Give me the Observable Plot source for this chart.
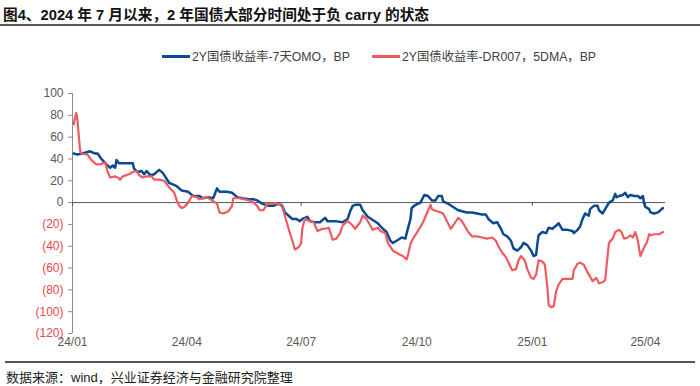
<!DOCTYPE html>
<html><head><meta charset="utf-8">
<script src="https://cdn.jsdelivr.net/npm/d3@7"></script>
<script src="https://cdn.jsdelivr.net/npm/@observablehq/plot@0.6"></script>
<style>
body{margin:0;width:700px;height:386px;background:#fff;font-family:"Liberation Sans","Noto Sans CJK SC",sans-serif;position:relative;overflow:hidden}
#title{position:absolute;left:3px;top:3px;font-size:14.7px;font-weight:bold;color:#111;white-space:nowrap;font-family:"Liberation Sans","Noto Sans CJK SC",sans-serif}
#tline{position:absolute;left:0;top:24px;width:700px;height:2px;background:#555}
#legend{position:absolute;top:47px;left:0;width:700px;height:18px;font-size:12.3px;color:#404040}
.li{position:absolute;top:0;display:flex;align-items:center;white-space:nowrap;height:18px}
.sw{width:28px;height:3px;margin-right:2px}
#chart{position:absolute;left:0;top:80px}
#bline{position:absolute;left:5px;top:361px;width:690px;height:2px;background:#555}
#source{position:absolute;left:6px;top:367px;font-size:13px;color:#222;white-space:nowrap}
</style></head>
<body>
<div id="title">图4、2024 年 7 月以来，2 年国债大部分时间处于负 carry 的状态</div>
<div id="tline"></div>
<div id="legend"></div>
<div id="chart"></div>
<div id="bline"></div>
<div id="source">数据来源：wind，兴业证券经济与金融研究院整理</div>
<script>
const seriesNames = ["2Y国债收益率-7天OMO，BP", "2Y国债收益率-DR007，5DMA，BP"];
const seriesColors = ["#0b4a93", "#ef5a60"];

const yTicks = [100, 80, 60, 40, 20, 0, -20, -40, -60, -80, -100, -120];
const xTickDates = ["2024-01-01", "2024-04-01", "2024-07-01", "2024-10-01", "2025-01-01", "2025-04-01"];
const xTickLabels = ["24/01", "24/04", "24/07", "24/10", "25/01", "25/04"];

const blueDates = ["2024-01-02","2024-01-05","2024-01-09","2024-01-15","2024-01-19","2024-01-21","2024-01-24","2024-01-28","2024-01-31","2024-02-02","2024-02-04","2024-02-05","2024-02-07","2024-02-18","2024-02-19","2024-02-22","2024-02-25","2024-02-27","2024-02-29","2024-03-03","2024-03-06","2024-03-10","2024-03-13","2024-03-18","2024-03-24","2024-03-28","2024-04-02","2024-04-06","2024-04-11","2024-04-14","2024-04-18","2024-04-22","2024-04-25","2024-04-27","2024-05-03","2024-05-07","2024-05-11","2024-05-15","2024-05-20","2024-05-24","2024-05-27","2024-05-31","2024-06-05","2024-06-09","2024-06-13","2024-06-16","2024-06-18","2024-06-21","2024-06-24","2024-06-27","2024-06-30","2024-07-02","2024-07-06","2024-07-08","2024-07-12","2024-07-16","2024-07-20","2024-07-22","2024-07-28","2024-08-03","2024-08-07","2024-08-09","2024-08-11","2024-08-13","2024-08-17","2024-08-19","2024-08-23","2024-08-27","2024-08-31","2024-09-04","2024-09-07","2024-09-10","2024-09-12","2024-09-15","2024-09-19","2024-09-22","2024-09-23","2024-09-26","2024-09-27","2024-09-30","2024-10-04","2024-10-07","2024-10-10","2024-10-13","2024-10-16","2024-10-18","2024-10-21","2024-10-22","2024-10-26","2024-10-30","2024-11-03","2024-11-06","2024-11-10","2024-11-14","2024-11-18","2024-11-22","2024-11-25","2024-11-27","2024-12-01","2024-12-04","2024-12-07","2024-12-09","2024-12-12","2024-12-15","2024-12-17","2024-12-20","2024-12-23","2024-12-25","2024-12-28","2024-12-31","2025-01-02","2025-01-04","2025-01-05","2025-01-06","2025-01-09","2025-01-12","2025-01-14","2025-01-17","2025-01-20","2025-01-22","2025-01-25","2025-01-29","2025-02-02","2025-02-03","2025-02-06","2025-02-08","2025-02-10","2025-02-12","2025-02-15","2025-02-16","2025-02-19","2025-02-22","2025-02-23","2025-02-26","2025-02-28","2025-03-03","2025-03-06","2025-03-08","2025-03-09","2025-03-11","2025-03-14","2025-03-16","2025-03-18","2025-03-20","2025-03-23","2025-03-26","2025-03-28","2025-03-30","2025-03-31","2025-04-01","2025-04-04","2025-04-05","2025-04-08","2025-04-11","2025-04-15"];
const blueValues = [45,44,45,47,45,45,40,35,32,34,32,39,36,36,31,28,29,26,29,25,26,30,27,18,15,11,10,6,6,4,5,4,13,10,10,9,5,4,3,3,2,-1,-3,-3,-1,-3,-9,-12,-15,-15,-17,-15,-13,-17,-18,-18,-14,-17,-17,-18,-15,-8,-3,-2,-2,-7,-13,-16,-19,-24,-27,-35,-37,-35,-32,-33,-28,-15,-5,-2,0,7,6,2,2,6,6,1,-1,-4,-7,-8,-9,-9,-10,-11,-11,-15,-19,-18,-24,-29,-31,-35,-42,-44,-41,-37,-39,-44,-49,-48,-38,-30,-27,-28,-23,-24,-21,-19,-25,-25,-26,-28,-25,-22,-15,-10,-12,-6,-3,-3,-7,-10,-6,0,2,8,5,6,7,9,5,7,6,6,4,6,-1,-4,-6,-9,-10,-9,-5];

const redDates = ["2024-01-02","2024-01-03","2024-01-04","2024-01-05","2024-01-07","2024-01-08","2024-01-13","2024-01-16","2024-01-20","2024-01-23","2024-01-27","2024-01-29","2024-01-31","2024-02-04","2024-02-06","2024-02-08","2024-02-10","2024-02-15","2024-02-18","2024-02-21","2024-02-23","2024-02-26","2024-02-29","2024-03-04","2024-03-06","2024-03-10","2024-03-14","2024-03-18","2024-03-22","2024-03-24","2024-03-26","2024-03-28","2024-03-30","2024-04-02","2024-04-05","2024-04-09","2024-04-11","2024-04-14","2024-04-17","2024-04-21","2024-04-25","2024-04-27","2024-04-30","2024-05-04","2024-05-07","2024-05-08","2024-05-13","2024-05-17","2024-05-23","2024-05-27","2024-05-29","2024-06-01","2024-06-04","2024-06-09","2024-06-13","2024-06-16","2024-06-18","2024-06-21","2024-06-24","2024-06-26","2024-06-29","2024-07-01","2024-07-02","2024-07-04","2024-07-08","2024-07-11","2024-07-14","2024-07-18","2024-07-20","2024-07-23","2024-07-26","2024-07-29","2024-08-01","2024-08-03","2024-08-07","2024-08-11","2024-08-13","2024-08-17","2024-08-19","2024-08-22","2024-08-25","2024-08-27","2024-08-31","2024-09-02","2024-09-06","2024-09-08","2024-09-12","2024-09-15","2024-09-18","2024-09-20","2024-09-23","2024-09-24","2024-09-26","2024-09-28","2024-10-02","2024-10-06","2024-10-09","2024-10-12","2024-10-13","2024-10-17","2024-10-20","2024-10-22","2024-10-25","2024-10-28","2024-10-30","2024-11-03","2024-11-06","2024-11-09","2024-11-11","2024-11-14","2024-11-18","2024-11-22","2024-11-26","2024-11-30","2024-12-03","2024-12-05","2024-12-08","2024-12-11","2024-12-13","2024-12-16","2024-12-19","2024-12-21","2024-12-23","2024-12-26","2024-12-28","2024-12-31","2025-01-02","2025-01-04","2025-01-05","2025-01-06","2025-01-09","2025-01-11","2025-01-13","2025-01-14","2025-01-16","2025-01-18","2025-01-20","2025-01-22","2025-01-25","2025-01-29","2025-02-02","2025-02-03","2025-02-06","2025-02-08","2025-02-11","2025-02-14","2025-02-18","2025-02-20","2025-02-21","2025-02-23","2025-02-26","2025-02-28","2025-03-01","2025-03-03","2025-03-06","2025-03-08","2025-03-11","2025-03-13","2025-03-15","2025-03-18","2025-03-20","2025-03-22","2025-03-24","2025-03-26","2025-03-28","2025-03-31","2025-04-02","2025-04-04","2025-04-05","2025-04-08","2025-04-12","2025-04-15"];
const redValues = [72,78,82,75,48,45,44,39,35,35,37,28,23,24,23,21,24,26,28,29,25,23,24,24,21,21,20,14,9,2,-3,-5,-4,0,6,5,3,4,5,2,-1,-9,-10,-8,-3,4,4,3,1,-3,-7,-7,-1,-1,-1,-4,-12,-24,-35,-43,-41,-37,-23,-15,-17,-18,-26,-24,-24,-23,-34,-33,-28,-21,-17,-21,-24,-18,-12,-15,-21,-25,-23,-26,-28,-37,-44,-46,-48,-49,-52,-48,-38,-33,-26,-18,-10,-2,-6,-8,-9,-10,-17,-24,-21,-14,-17,-23,-27,-31,-31,-32,-33,-32,-35,-40,-46,-50,-55,-62,-61,-53,-49,-53,-61,-69,-70,-66,-59,-53,-54,-57,-78,-94,-96,-95,-81,-75,-70,-70,-70,-62,-56,-55,-57,-64,-72,-70,-69,-74,-73,-71,-59,-37,-33,-27,-25,-27,-33,-32,-30,-32,-27,-35,-49,-41,-37,-29,-30,-29,-29,-27];

const parse = d3.utcParse("%Y-%m-%d");
const blue = blueDates.map((d, i) => ({date: parse(d), value: blueValues[i]}));
const red = redDates.map((d, i) => ({date: parse(d), value: redValues[i]}));
const xTicks = xTickDates.map(parse);

// legend
const legend = document.getElementById("legend");
const legendX = [162, 372];
seriesNames.forEach((name, i) => {
  const el = document.createElement("div");
  el.className = "li";
  el.style.left = legendX[i] + "px";
  el.innerHTML = `<span class="sw" style="background:${seriesColors[i]}"></span><span>${name}</span>`;
  legend.appendChild(el);
});

const fmt = d => d < 0 ? `(${-d})` : `${d}`;
const chart = Plot.plot({
  width: 700,
  height: 275,
  marginTop: 13,
  marginBottom: 22,
  marginLeft: 72,
  marginRight: 35,
  x: {type: "utc", domain: [parse("2024-01-01"), parse("2025-04-17")]},
  y: {domain: [-120, 100]},
  style: {fontFamily: "Liberation Sans, Noto Sans CJK SC, sans-serif", fontSize: "12px", background: "transparent"},
  marks: [
    Plot.axisY(yTicks, {tickSize: 4, tickFormat: () => "", stroke: "#8c8c8c", label: null}),
    Plot.ruleX([xTicks[0]], {stroke: "#8c8c8c"}),
    Plot.text(yTicks, {y: d => d, text: fmt, frameAnchor: "left", textAnchor: "end", dx: -9, fill: d => d < 0 ? "#e8474d" : "#595959", fontSize: 12}),
    Plot.axisX(xTicks, {tickSize: 0, tickPadding: 4, tickFormat: (d, i) => xTickLabels[i], fill: "#595959", label: null, fontSize: 12}),
    Plot.ruleY([0], {stroke: "#555", strokeWidth: 1}),
    Plot.ruleX(xTicks, {y1: 0, y2: -3.5, stroke: "#555"}),
    Plot.line(blue, {x: "date", y: "value", stroke: seriesColors[0], strokeWidth: 2.5}),
    Plot.line(red, {x: "date", y: "value", stroke: seriesColors[1], strokeWidth: 2.2})
  ]
});
document.getElementById("chart").appendChild(chart);
</script>
</body></html>
